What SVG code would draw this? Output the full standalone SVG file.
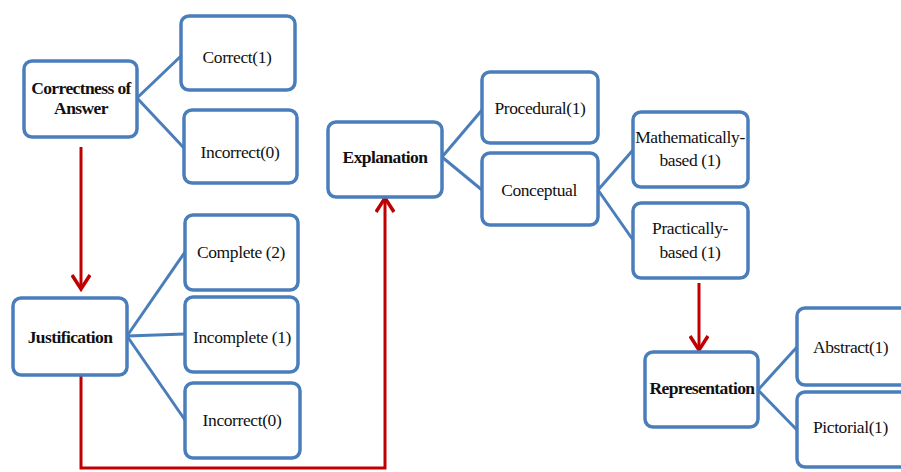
<svg xmlns="http://www.w3.org/2000/svg" width="901" height="472" viewBox="0 0 901 472">
<style>
.box{fill:#fff;stroke:#4a7ebb;stroke-width:3.5}
.t{font-family:'Liberation Serif','DejaVu Serif',serif;font-size:17.5px;fill:#111;text-anchor:middle;letter-spacing:-0.4px}
.b{font-weight:bold;font-size:17.5px;letter-spacing:-0.6px}
.l{text-anchor:start}
.c{fill:none;stroke:#4a7ebb;stroke-width:3}
.r{fill:none;stroke:#c00000;stroke-width:3}
</style>
<defs>
<marker id="ah" viewBox="0 0 20 20" refX="17" refY="10" markerWidth="20" markerHeight="20" markerUnits="userSpaceOnUse" orient="auto">
<polyline points="3,1 17,10 3,19" fill="none" stroke="#c00000" stroke-width="3.5"/>
</marker>
</defs>
<g id="connectors">
<line class="c" x1="137" y1="98" x2="181" y2="56"/>
<line class="c" x1="137" y1="98" x2="184" y2="148"/>
<line class="c" x1="127" y1="336" x2="185" y2="252"/>
<line class="c" x1="127" y1="336" x2="185" y2="334"/>
<line class="c" x1="127" y1="336" x2="185" y2="420"/>
<line class="c" x1="442" y1="157" x2="482" y2="110"/>
<line class="c" x1="442" y1="157" x2="482" y2="190"/>
<line class="c" x1="598" y1="190" x2="633" y2="150"/>
<line class="c" x1="598" y1="190" x2="633" y2="240"/>
<line class="c" x1="758" y1="390" x2="797" y2="347"/>
<line class="c" x1="758" y1="390" x2="797" y2="430"/>
<path class="r" d="M81,147 V289" marker-end="url(#ah)"/>
<path class="r" d="M81,375 V468 H385 V198" marker-end="url(#ah)"/>
<path class="r" d="M699,283 V350" marker-end="url(#ah)"/>
</g>
<g font-family="Liberation Serif, DejaVu Serif, serif">
<g id="correctness"><rect class="box" x="24" y="61" width="113" height="76" rx="8"/><text class="t b" x="81" y="94">Correctness of</text><text class="t b" x="81" y="114">Answer</text></g>
<g id="correct1"><rect class="box" x="181" y="16" width="114" height="74" rx="8"/><text class="t" x="237" y="63">Correct(1)</text></g>
<g id="incorrect0a"><rect class="box" x="184" y="110" width="113" height="73" rx="8"/><text class="t" x="240" y="158">Incorrect(0)</text></g>
<g id="justification"><rect class="box" x="13" y="298" width="114" height="77" rx="8"/><text class="t b" x="70" y="343">Justification</text></g>
<g id="complete2"><rect class="box" x="185" y="215" width="113" height="75" rx="8"/><text class="t" x="241" y="258">Complete (2)</text></g>
<g id="incomplete1"><rect class="box" x="185" y="297" width="113" height="75" rx="8"/><text class="t" x="242" y="343">Incomplete (1)</text></g>
<g id="incorrect0b"><rect class="box" x="185" y="383" width="115" height="75" rx="8"/><text class="t" x="242" y="426">Incorrect(0)</text></g>
<g id="explanation"><rect class="box" x="328" y="122" width="114" height="75" rx="8"/><text class="t b" x="385" y="163">Explanation</text></g>
<g id="procedural"><rect class="box" x="482" y="72" width="116" height="71" rx="8"/><text class="t" x="540" y="114">Procedural(1)</text></g>
<g id="conceptual"><rect class="box" x="482" y="153" width="116" height="72" rx="8"/><text class="t" x="539" y="196">Conceptual</text></g>
<g id="mathematically"><rect class="box" x="633" y="112" width="115" height="75" rx="8"/><text class="t" x="690" y="143">Mathematically-</text><text class="t" x="690" y="166">based (1)</text></g>
<g id="practically"><rect class="box" x="633" y="203" width="115" height="75" rx="8"/><text class="t" x="690" y="234">Practically-</text><text class="t" x="690" y="258">based (1)</text></g>
<g id="representation"><rect class="box" x="645" y="352" width="113" height="75" rx="8"/><text class="t b" x="702" y="394">Representation</text></g>
<g id="abstract"><rect class="box" x="797" y="308" width="125" height="77" rx="8"/><text class="t l" x="813" y="353">Abstract(1)</text></g>
<g id="pictorial"><rect class="box" x="797" y="392" width="125" height="75" rx="8"/><text class="t l" x="813" y="433">Pictorial(1)</text></g>
</g>
</svg>
